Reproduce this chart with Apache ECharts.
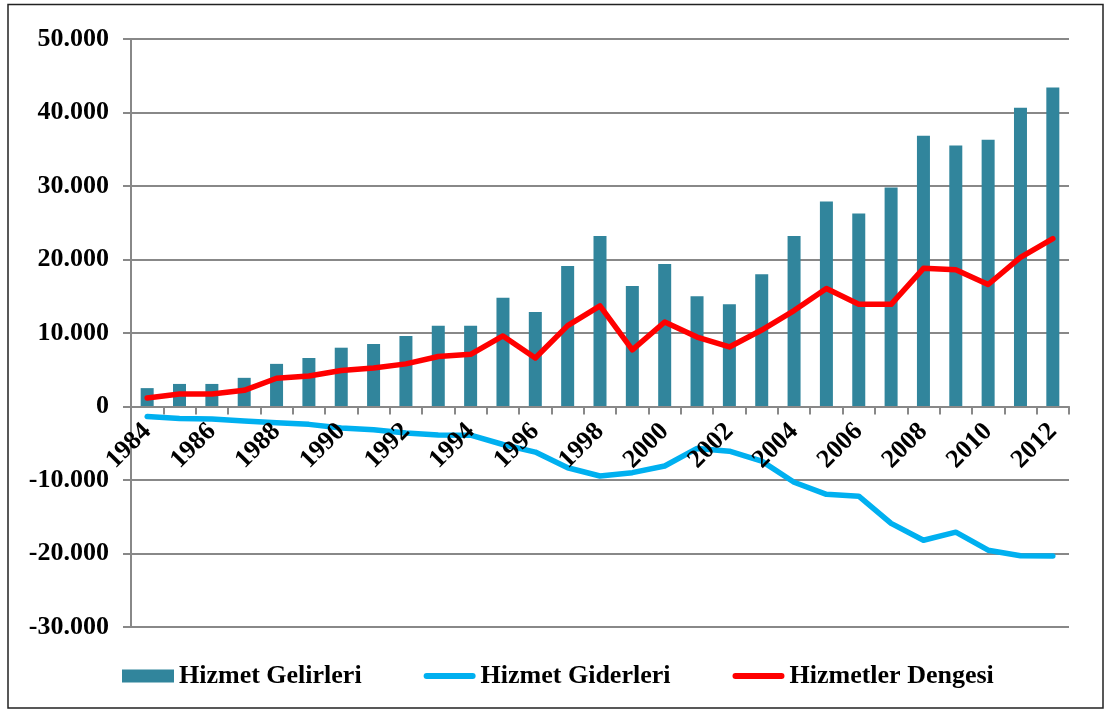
<!DOCTYPE html>
<html>
<head>
<meta charset="utf-8">
<script src="https://cdn.jsdelivr.net/npm/echarts@6/dist/echarts.min.js"></script>
<style>
  html, body { margin: 0; padding: 0; background: #fff; }
  #chart { width: 1105px; height: 711px; }
</style>
</head>
<body>
<div id="chart"></div>
<script>
// Turkish services trade, million USD
const years = ['1984','1985','1986','1987','1988','1989','1990','1991','1992','1993','1994','1995','1996','1997','1998','1999','2000','2001','2002','2003','2004','2005','2006','2007','2008','2009','2010','2011','2012'];

// Hizmet Gelirleri (bars)
const gelirler = [2500, 3070, 3070, 3900, 5800, 6600, 8000, 8500, 9600, 11000, 11000, 14800, 12850, 19100, 23200, 16400, 19400, 15000, 13900, 18000, 23200, 27900, 26250, 29800, 36850, 35500, 36300, 40650, 43400];

// Hizmet Giderleri (blue line)
const giderler = [-1350, -1620, -1700, -1970, -2200, -2430, -2920, -3150, -3600, -3870, -3900, -5170, -6200, -8330, -9460, -9000, -8100, -5700, -6080, -7430, -10300, -11950, -12200, -15900, -18200, -17100, -19550, -20300, -20350];

// Hizmetler Dengesi (red line)
const denge = [1150, 1700, 1700, 2200, 3850, 4150, 4900, 5250, 5800, 6800, 7100, 9600, 6600, 11000, 13700, 7700, 11500, 9450, 8100, 10400, 13050, 16050, 13900, 13900, 18800, 18600, 16600, 20300, 22850];

const seriesNames = ['Hizmet Gelirleri', 'Hizmet Giderleri', 'Hizmetler Dengesi'];

const FONT = "'Liberation Serif', 'Times New Roman', serif";
const GRID_GRAY = '#888888';

// dot as thousands separator: 50000 -> 50.000
function fmt(v) {
  const s = Math.abs(v).toString().replace(/\B(?=(\d{3})+(?!\d))/g, '.');
  return (v < 0 ? '-' : '') + s;
}

const lineIcon = 'path://M3,0 L49,0 A3,3 0 0 1 49,6 L3,6 A3,3 0 0 1 3,0 Z';

const chart = echarts.init(document.getElementById('chart'), null, { renderer: 'canvas' });

chart.setOption({
  animation: false,
  backgroundColor: '#ffffff',
  graphic: [{
    type: 'rect',
    shape: { x: 8, y: 4.5, width: 1095, height: 703.5 },
    style: { fill: 'none', stroke: '#222', lineWidth: 1.5 },
    silent: true
  }],
  grid: { left: 131, right: 36, top: 39, bottom: 84, containLabel: false },
  legend: {
    left: 117,
    top: 658,
    itemWidth: 52,
    itemHeight: 13,
    itemGap: 62,
    textStyle: { fontFamily: FONT, fontWeight: 'bold', fontSize: 26, color: '#000' },
    data: [
      { name: seriesNames[0], icon: 'rect' },
      { name: seriesNames[1], icon: lineIcon },
      { name: seriesNames[2], icon: lineIcon }
    ]
  },
  xAxis: {
    type: 'category',
    data: years,
    boundaryGap: true,
    z: 10,
    axisLine: { onZero: true, onZeroAxisIndex: 0, lineStyle: { color: GRID_GRAY, width: 2 } },
    axisTick: { show: true, alignWithLabel: false, interval: 0, length: 8, lineStyle: { color: GRID_GRAY, width: 2 } },
    axisLabel: {
      interval: 1,
      rotate: 45,
      margin: 21,
      fontFamily: FONT,
      fontWeight: 'bold',
      fontSize: 26,
      color: '#000'
    },
    splitLine: { show: false }
  },
  yAxis: {
    type: 'value',
    min: -30000,
    max: 50000,
    interval: 10000,
    axisLine: { show: true, onZero: false, lineStyle: { color: GRID_GRAY, width: 2 } },
    axisTick: { show: true, length: 8, lineStyle: { color: GRID_GRAY, width: 2 } },
    splitLine: { show: true, lineStyle: { color: GRID_GRAY, width: 2 } },
    axisLabel: {
      margin: 22,
      fontFamily: FONT,
      fontWeight: 'bold',
      fontSize: 26,
      color: '#000',
      formatter: fmt
    }
  },
  series: [
    {
      name: seriesNames[0],
      type: 'bar',
      data: gelirler,
      barWidth: 13,
      itemStyle: { color: '#31859C' },
      z: 2
    },
    {
      name: seriesNames[1],
      type: 'line',
      data: giderler,
      symbol: 'none',
      lineStyle: { color: '#00B0F0', width: 5.5, cap: 'round', join: 'round' },
      itemStyle: { color: '#00B0F0' },
      z: 3
    },
    {
      name: seriesNames[2],
      type: 'line',
      data: denge,
      symbol: 'none',
      lineStyle: { color: '#FF0000', width: 5.5, cap: 'round', join: 'round' },
      itemStyle: { color: '#FF0000' },
      z: 4
    }
  ]
});

// Keep the category axis on the value axis' zero line
const gridBottom = chart.getHeight() - 84;
const zeroY = chart.convertToPixel({ yAxisIndex: 0 }, 0);
if (Math.abs(zeroY - gridBottom) > 1) {
  chart.setOption({ xAxis: { axisLine: { onZero: false }, offset: -(gridBottom - zeroY) } });
}
</script>
</body>
</html>
